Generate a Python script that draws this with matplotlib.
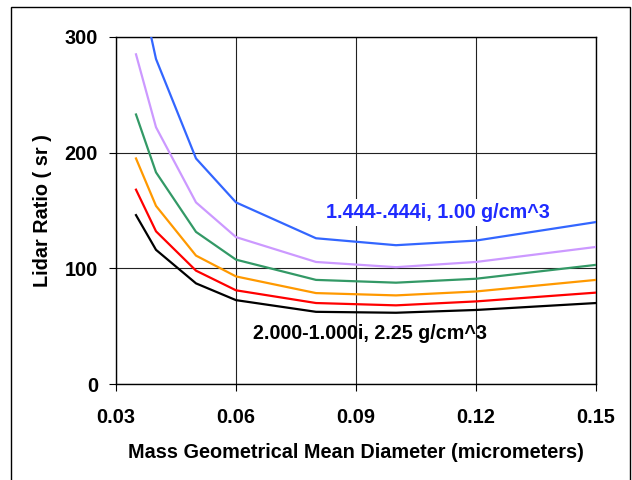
import matplotlib
matplotlib.use("Agg")
import matplotlib.pyplot as plt
from matplotlib.patches import Rectangle

plt.rcParams['font.family'] = ['Liberation Sans', 'DejaVu Sans']
plt.rcParams['font.weight'] = 'bold'

diam = [0.035, 0.04, 0.05, 0.06, 0.08, 0.10, 0.12, 0.15]
blue = [360, 281, 195, 157, 126, 120, 124, 140]
purple = [285, 222, 157, 127, 105.5, 101, 105.5, 118.5]
green = [233, 183, 131.5, 107.5, 90, 87.6, 91, 103]
orange = [195, 154, 111, 93, 78.6, 76.6, 80, 90]
red = [168, 132, 98, 81, 70, 68, 71.4, 79]
black = [146, 116, 87, 72.5, 62.4, 61.6, 64, 70]

series = [blue, purple, green, orange, red, black]
colors = ['#3366FF', '#CC99FF', '#339966', '#FF9900', '#FF0000', '#000000']

xticks = [0.03, 0.06, 0.09, 0.12, 0.15]
xticklabels = ['0.03', '0.06', '0.09', '0.12', '0.15']
yticks = [0, 100, 200, 300]
yticklabels = ['0', '100', '200', '300']

label_top = '1.444-.444i, 1.00 g/cm^3'
label_bot = '2.000-1.000i, 2.25 g/cm^3'

fig = plt.figure(figsize=(6.32, 4.8), dpi=100)
ax = fig.add_axes([116/632, 1-384/480, (596-116)/632, (384-37)/480])

for vals, c in zip(series, colors):
    ax.plot(diam, vals, color=c, lw=1.6, zorder=3, clip_on=True)

ax.set_xlim(0.03, 0.15)
ax.set_ylim(0, 300)
ax.set_xticks(xticks)
ax.set_xticklabels(xticklabels)
ax.set_yticks(yticks)
ax.set_yticklabels(yticklabels)
ax.grid(True, color='#222222', lw=0.8, zorder=1)
for s in ax.spines.values():
    s.set_color('black')
    s.set_linewidth(1.0)
ax.tick_params(axis='both', direction='out', length=5, width=0.8, labelsize=14.3)
ax.tick_params(axis='y', pad=8)
ax.tick_params(axis='x', pad=12)

ax.set_xlabel('Mass Geometrical Mean Diameter (micrometers)', fontsize=14.3, fontweight='bold', labelpad=12)
ax.set_ylabel('Lidar Ratio ( sr )', fontsize=14.3, fontweight='bold', labelpad=9)

ax.text(0.1104, 148.3, label_top, color='#1F2BFF', fontsize=14.2, fontweight='bold',
        ha='center', va='center', zorder=4,
        bbox=dict(facecolor='white', edgecolor='none', pad=3))
ax.text(0.0936, 43.4, label_bot, color='black', fontsize=14.2, fontweight='bold',
        ha='center', va='center', zorder=4)

fig.patches.append(Rectangle((11/632, -0.05), (630-11)/632, 1-7/480+0.05,
                             transform=fig.transFigure, fill=False,
                             edgecolor='black', lw=1.0, zorder=0))

fig.savefig('out.png', dpi=100)
